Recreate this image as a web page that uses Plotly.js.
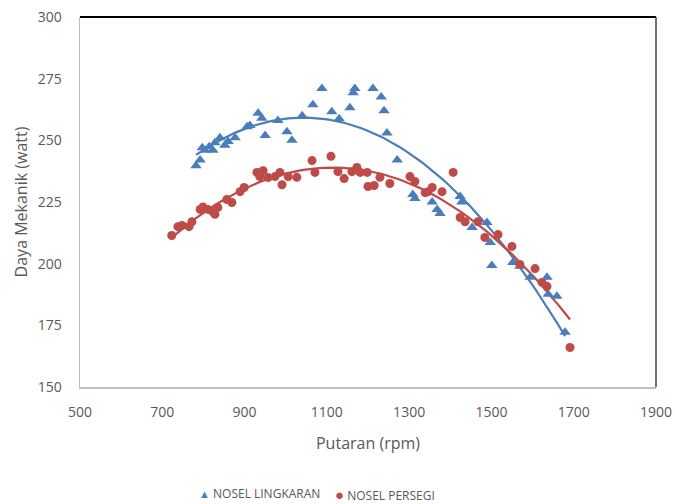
<!DOCTYPE html>
<html><head><meta charset="utf-8">
<script src="https://cdn.plot.ly/plotly-3.0.1.min.js"></script>
<style>html,body{margin:0;padding:0;background:#fff}#chart{width:675px;height:504px}</style>
</head><body><div id="chart"></div>
<script>
// NOSEL LINGKARAN (triangles)
const lingkaranRpm = [782,792,797,804,814,823,828,840,852,860,877,906,913,933,942,950,981,1003,1015,1040,1066,1088,1112,1130,1156,1164,1168,1212,1232,1239,1246,1271,1309,1314,1356,1368,1375,1424,1428,1453,1489,1497,1501,1552,1569,1594,1635,1638,1659,1679];
const lingkaranDaya = [239.7,242,247,246,247.4,246,249,251,248,249.5,251,255.5,256,261,259,252,258,253.5,250,260,264.4,271,261.6,258.8,263.2,269.3,271,271,267.6,262,253,242,228,226.4,225,222,220.3,227.2,225,214.7,216.7,208.6,199.3,200.5,199,194.5,194.5,187.6,186.8,172.2];
// NOSEL PERSEGI (circles)
const persegiRpm = [723,738,748,765,772,792,799,811,823,828,835,857,869,889,899,930,937,945,957,974,986,991,1006,1027,1064,1071,1110,1127,1142,1161,1173,1181,1198,1200,1215,1229,1253,1302,1314,1339,1346,1356,1380,1407,1424,1436,1467,1484,1516,1550,1569,1606,1623,1635,1691];
const persegiDaya = [211.4,215,215.5,215,217,222,223,222,221,220,222.8,226,224.8,229.2,230.9,237,235.3,237.7,234.9,235.3,237,232,235.3,235,241.8,237,243.5,237.3,234.5,237.3,239,237,237,231.3,231.7,235,232.5,235.3,233.3,228.8,229.2,230.9,229.2,237,218.7,217,217,210.6,211.8,207,199.7,198,192.4,190.8,166];

const seriesNames = ['NOSEL LINGKARAN','NOSEL PERSEGI'];
const xTicks = [500,700,900,1100,1300,1500,1700,1900];
const yTicks = [150,175,200,225,250,275,300];

// least-squares quadratic trendline (as in the spreadsheet's polynomial trendline)
function polyfit2(xs, ys){
  let s=[0,0,0,0,0], t=[0,0,0];
  for(let i=0;i<xs.length;i++){const x=xs[i],y=ys[i];let p=1;for(let k=0;k<5;k++){s[k]+=p;if(k<3)t[k]+=p*y;p*=x;}}
  const A=[[s[0],s[1],s[2],t[0]],[s[1],s[2],s[3],t[1]],[s[2],s[3],s[4],t[2]]];
  for(let i=0;i<3;i++){for(let j=i+1;j<3;j++){const f=A[j][i]/A[i][i];for(let k=i;k<4;k++)A[j][k]-=f*A[i][k];}}
  const c=[0,0,0];
  for(let i=2;i>=0;i--){let v=A[i][3];for(let k=i+1;k<3;k++)v-=A[i][k]*c[k];c[i]=v/A[i][i];}
  return c;
}
function trend(xs, ys){
  const c=polyfit2(xs,ys);const x0=Math.min(...xs),x1=Math.max(...xs);
  const tx=[],ty=[];for(let i=0;i<=100;i++){const x=x0+(x1-x0)*i/100;tx.push(x);ty.push(c[0]+c[1]*x+c[2]*x*x);}
  return {tx,ty};
}
const blue='#4A7EBB', red='#BE4B48';
const tB=trend(lingkaranRpm,lingkaranDaya), tR=trend(persegiRpm,persegiDaya);

const data=[
 {x:tB.tx,y:tB.ty,mode:'lines',line:{color:blue,width:2.2},showlegend:false,hoverinfo:'skip'},
 {x:tR.tx,y:tR.ty,mode:'lines',line:{color:red,width:2.2},showlegend:false,hoverinfo:'skip'},
 {x:lingkaranRpm,y:lingkaranDaya,mode:'markers',name:seriesNames[0],showlegend:false,marker:{symbol:'triangle-up',size:10,color:blue}},
 {x:persegiRpm,y:persegiDaya,mode:'markers',name:seriesNames[1],showlegend:false,marker:{symbol:'circle',size:9,color:red}}
];
const font={family:'"Open Sans", "Noto Sans", sans-serif',color:'#595959'};
const layout={
 width:675,height:504,margin:{l:80,r:19,t:17,b:117,autoexpand:false},
 paper_bgcolor:'#fff',plot_bgcolor:'#fff',font:font,showlegend:false,
 xaxis:{range:[500,1900],tickvals:xTicks,ticktext:xTicks.map(String),showgrid:false,zeroline:false,
   showline:true,linecolor:'#BFBFBF',linewidth:1.5,ticks:'',ticklabelstandoff:12,tickfont:{size:14,color:'#595959'},
   title:{text:'Putaran (rpm)',font:{size:16,color:'#595959'},standoff:17}},
 yaxis:{range:[150,300],tickvals:yTicks,ticktext:yTicks.map(String),showgrid:false,zeroline:false,
   showline:true,linecolor:'#BFBFBF',linewidth:1.5,ticks:'',ticklabelstandoff:14,tickfont:{size:14,color:'#595959'},
   title:{text:'Daya Mekanik (watt)',font:{size:16,color:'#595959'},standoff:6}},
 shapes:[
  {type:'line',xref:'paper',yref:'paper',x0:0,x1:1,y0:1,y1:1,line:{color:'#000',width:2}},
  {type:'line',xref:'paper',yref:'paper',x0:1,x1:1,y0:0,y1:1,line:{color:'#404040',width:1.5}}
 ],
 annotations:[
  {xref:'paper',yref:'paper',x:0.203,y:-0.288,xanchor:'left',yanchor:'middle',showarrow:false,
   text:'<span style="color:'+blue+';font-size:11px">▲</span> '+seriesNames[0],font:{size:12,color:'#595959'}},
  {xref:'paper',yref:'paper',x:0.44,y:-0.288,xanchor:'left',yanchor:'middle',showarrow:false,
   text:'<span style="color:'+red+';font-size:15px">●</span> '+seriesNames[1],font:{size:12,color:'#595959'}}
 ]
};
Plotly.newPlot('chart',data,layout,{displayModeBar:false,staticPlot:true});
</script></body></html>
